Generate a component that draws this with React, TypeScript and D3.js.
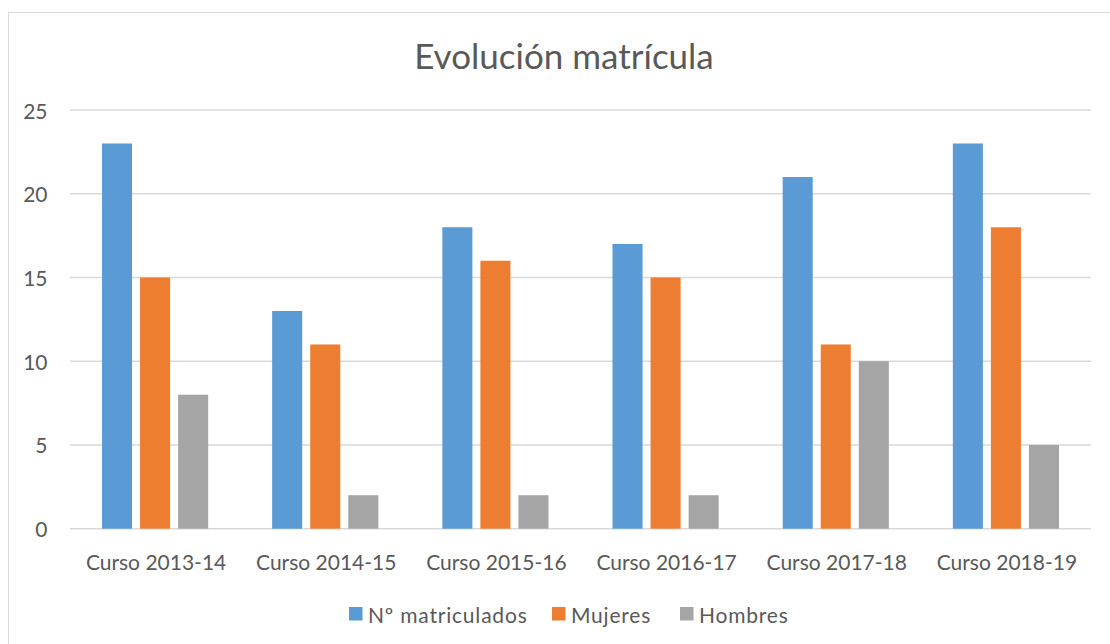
import * as d3 from 'd3'

const categories = ['Curso 2013-14', 'Curso 2014-15', 'Curso 2015-16', 'Curso 2016-17', 'Curso 2017-18', 'Curso 2018-19']
const seriesNames = ['Nº matriculados', 'Mujeres', 'Hombres']
const matriculados = [23, 13, 18, 17, 21, 23]
const mujeres = [15, 11, 16, 15, 11, 18]
const hombres = [8, 2, 2, 2, 10, 5]
const yTicks = [0, 5, 10, 15, 20, 25]
const colors = ['#5b9bd5', '#ed7d31', '#a5a5a5']

const W = 1110
const H = 644
const font = 'Lato, "Liberation Sans", sans-serif'
const textColor = '#595959'

const App = () => {
  const values = [matriculados, mujeres, hombres]

  const x0 = d3.scaleBand().domain(categories).range([70, 1091])
  const x1 = d3.scaleBand()
    .domain(seriesNames)
    .range([32, x0.bandwidth() - 32])
    .paddingInner(8 / 38)
  const y = d3.scaleLinear().domain([0, 25]).range([528.7, 110])

  // legend layout
  const legendX = [349, 552, 680]

  return (
    <svg width={W} height={H} style={{ position: 'absolute', left: 0, top: 0, background: '#fff' }}>
      <rect x={8.5} y={12.5} width={1200} height={700} fill="#fff" stroke="#d9d9d9" />
      <text x={564} y={55} textAnchor="middle" dominantBaseline="central"
        style={{ fontFamily: font, fontSize: 35, fill: textColor }}>
        Evolución matrícula
      </text>

      {yTicks.map(t => (
        <g key={t}>
          <line x1={70} x2={1091} y1={y(t)} y2={y(t)} stroke="#d9d9d9" strokeWidth={1.5} />
          <text x={47.5} y={y(t)} textAnchor="end" dominantBaseline="central"
            style={{ fontFamily: font, fontSize: 21, fill: textColor }}>
            {t}
          </text>
        </g>
      ))}

      {categories.map((c, i) => (
        <g key={c} transform={`translate(${x0(c)}, 0)`}>
          {seriesNames.map((s, j) => (
            <rect key={s}
              x={x1(s)}
              y={y(values[j][i])}
              width={x1.bandwidth()}
              height={y(0) - y(values[j][i])}
              fill={colors[j]} />
          ))}
          <text x={x0.bandwidth() / 2 + 1} y={561} textAnchor="middle" dominantBaseline="central"
            style={{ fontFamily: font, fontSize: 21, fill: textColor }}>
            {c}
          </text>
        </g>
      ))}

      {seriesNames.map((s, j) => (
        <g key={s} transform={`translate(${legendX[j]}, 607)`}>
          <rect width={13.5} height={13.5} fill={colors[j]} />
          <text x={19} y={7} dominantBaseline="central"
            style={{ fontFamily: font, fontSize: 21, fill: textColor, letterSpacing: 0.8 }}>
            {s}
          </text>
        </g>
      ))}
    </svg>
  )
}

export default App
